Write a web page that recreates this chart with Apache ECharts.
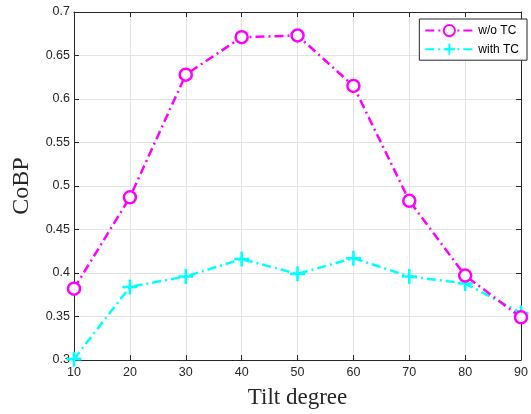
<!DOCTYPE html>
<html>
<head>
<meta charset="utf-8">
<script src="https://cdn.jsdelivr.net/npm/echarts@6/dist/echarts.min.js"></script>
<style>
  html, body { margin: 0; padding: 0; background: #fff; }
  #chart { width: 531px; height: 414px; }
</style>
</head>
<body>
<div id="chart"></div>
<script>
// 数据
var tilt = [10, 20, 30, 40, 50, 60, 70, 80, 90];
var woTC = [0.382, 0.487, 0.628, 0.671, 0.673, 0.615, 0.483, 0.397, 0.349];
var withTC = [0.301, 0.384, 0.396, 0.416, 0.399, 0.417, 0.396, 0.388, 0.354];

(function () {
  var myChart = echarts.init(document.getElementById('chart'));
  var axisColor = '#262626';
  var plusPath = 'path://M-1.7,-10 L1.7,-10 L1.7,-1.7 L10,-1.7 L10,1.7 L1.7,1.7 L1.7,10 L-1.7,10 L-1.7,1.7 L-10,1.7 L-10,-1.7 L-1.7,-1.7 Z';

  function pairs(ys) {
    return tilt.map(function (x, i) { return [x, ys[i]]; });
  }

  var option = {
    animation: false,
    backgroundColor: '#fff',
    grid: { left: 74, right: 3, top: 12, bottom: 54 },
    legend: {
      right: 4,
      top: 19,
      orient: 'vertical',
      backgroundColor: '#fff',
      borderColor: '#262626',
      borderWidth: 1,
      padding: [5, 8, 5, 5],
      itemGap: 6,
      itemWidth: 48,
      itemHeight: 14,
      textStyle: { fontFamily: 'Liberation Sans, Arial, sans-serif', fontSize: 12, color: '#000' },
      data: ['w/o TC', 'with TC']
    },
    xAxis: [
      {
        type: 'value',
        min: 10,
        max: 90,
        interval: 10,
        name: 'Tilt degree',
        nameLocation: 'middle',
        nameGap: 26,
        nameTextStyle: { fontFamily: 'Liberation Serif, serif', fontSize: 23, color: '#262626' },
        axisLine: { lineStyle: { color: axisColor, width: 1 } },
        axisTick: { inside: true, length: 5, lineStyle: { color: axisColor } },
        axisLabel: { color: axisColor, fontSize: 12.5, margin: 6, fontFamily: 'Liberation Sans, Arial, sans-serif' },
        splitLine: { show: true, lineStyle: { color: '#e3e3e3', width: 1 } }
      },
      {
        type: 'value',
        position: 'top',
        min: 10,
        max: 90,
        interval: 10,
        axisLine: { show: true, onZero: false, lineStyle: { color: axisColor, width: 1 } },
        axisTick: { show: true, inside: true, length: 5, lineStyle: { color: axisColor } },
        axisLabel: { show: false },
        splitLine: { show: false }
      }
    ],
    yAxis: [
      {
        type: 'value',
        min: 0.3,
        max: 0.7,
        interval: 0.05,
        name: 'CoBP',
        nameLocation: 'middle',
        nameGap: 40,
        nameTextStyle: { fontFamily: 'Liberation Serif, serif', fontSize: 24, color: '#262626' },
        axisLine: { show: true, lineStyle: { color: axisColor, width: 1 } },
        axisTick: { show: true, inside: true, length: 5, lineStyle: { color: axisColor } },
        axisLabel: { color: axisColor, fontSize: 12.5, margin: 4, fontFamily: 'Liberation Sans, Arial, sans-serif' },
        splitLine: { show: true, lineStyle: { color: '#e3e3e3', width: 1 } }
      },
      {
        type: 'value',
        position: 'right',
        min: 0.3,
        max: 0.7,
        interval: 0.05,
        axisLine: { show: true, onZero: false, lineStyle: { color: axisColor, width: 1 } },
        axisTick: { show: true, inside: true, length: 5, lineStyle: { color: axisColor } },
        axisLabel: { show: false },
        splitLine: { show: false }
      }
    ],
    series: [
      {
        name: 'w/o TC',
        type: 'line',
        data: pairs(woTC),
        symbol: 'circle',
        symbolSize: 12,
        showAllSymbol: true,
        color: '#ff00ff',
        lineStyle: { color: '#ff00ff', width: 2.5, type: [9, 4, 2, 4] },
        itemStyle: { color: '#fff', borderColor: '#ff00ff', borderWidth: 2.5 },
        z: 3
      },
      {
        name: 'with TC',
        type: 'line',
        data: pairs(withTC),
        symbol: plusPath,
        symbolSize: 15,
        showAllSymbol: true,
        color: '#00ffff',
        lineStyle: { color: '#00ffff', width: 2.5, type: [9, 4, 2, 4] },
        itemStyle: { color: '#00ffff', borderWidth: 0 },
        z: 2
      }
    ]
  };
  myChart.setOption(option);
  window.addEventListener('resize', function () {
    myChart.resize();
  });
})();
</script>
</body>
</html>
